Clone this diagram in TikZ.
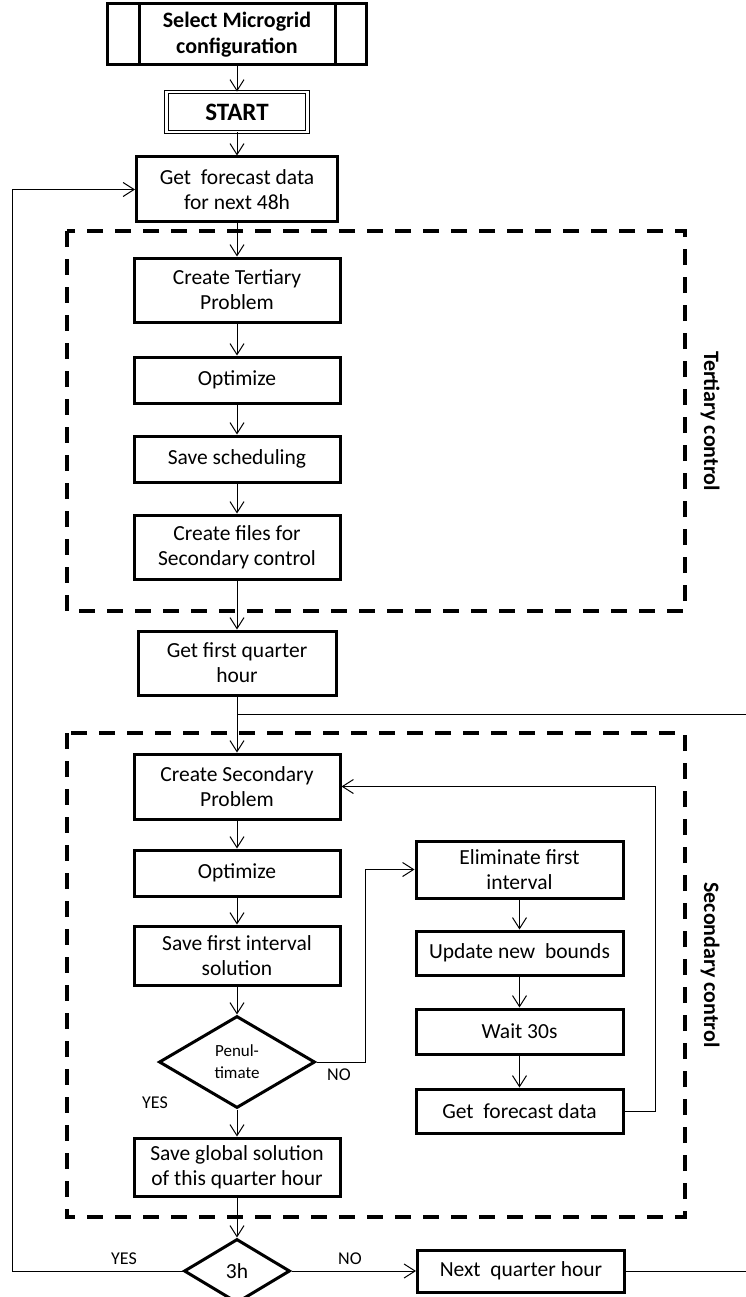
\documentclass[tikz,border=0pt]{standalone}
\usepackage{fontspec}
\setmainfont{Carlito}
\usetikzlibrary{arrows.meta,shapes.geometric}

\tikzset{
  procbox/.style={draw, line width=3pt, align=center, inner sep=0pt,
                  font=\fontsize{21.5}{25}\selectfont},
  decbox/.style={draw, diamond, line width=3pt, align=center, inner sep=0pt},
  arr/.style={line width=1pt, -{Straight Barb[length=11pt,width=14pt,line width=1pt]}},
  conn/.style={line width=1pt},
  region/.style={line width=3.5pt, dash pattern=on 16pt off 12pt},
  regionlabel/.style={rotate=-90, font=\fontsize{22}{26}\selectfont\bfseries},
  branchlabel/.style={font=\fontsize{18}{21}\selectfont},
}

\begin{document}
\begin{tikzpicture}[x=1pt, y=-1pt]
\useasboundingbox (0,0) rectangle (746,1297);

% dashed control regions
\draw[region] (67,231) rectangle (685,611);
\draw[region] (67,733) rectangle (685,1217);
\node[regionlabel] (tertlabel) at (710,421) {Tertiary control};
\node[regionlabel] (seclabel) at (710,965) {Secondary control};

% top of the chart
\node[procbox, minimum width=259pt, minimum height=61pt,
      font=\fontsize{22}{26}\selectfont\bfseries] (select) at (237,34.5)
      {Select Microgrid\\configuration};
\draw[line width=3pt] ([xshift=33pt]select.north west) -- ([xshift=33pt]select.south west);
\draw[line width=3pt] ([xshift=-33pt]select.north east) -- ([xshift=-33pt]select.south east);

\node[draw, double, double distance=2.5pt, line width=0.9pt, inner sep=0pt,
      minimum width=141pt, minimum height=40pt,
      font=\fontsize{25}{29}\selectfont\bfseries] (start) at (237,112) {START};

\node[procbox, minimum width=201pt, minimum height=65pt] (fc48) at (237,189.5)
      {Get\ \ forecast data\\for next 48h};

% tertiary control
\node[procbox, minimum width=206pt, minimum height=64pt] (tprob) at (237,290)
      {Create Tertiary\\Problem};
\node[procbox, minimum width=206pt, minimum height=46pt] (topt) at (237,380) {Optimize};
\node[procbox, minimum width=206pt, minimum height=46pt] (tsave) at (237,459) {Save scheduling};
\node[procbox, minimum width=206pt, minimum height=64pt] (tfiles) at (237,547)
      {Create files for\\Secondary control};

\node[procbox, minimum width=198pt, minimum height=64pt] (firstq) at (237,663)
      {Get first quarter\\hour};

% secondary control
\node[procbox, minimum width=206pt, minimum height=65pt] (sprob) at (237,786.5)
      {Create Secondary\\Problem};
\node[procbox, minimum width=206pt, minimum height=46pt] (sopt) at (237,873) {Optimize};
\node[procbox, minimum width=206pt, minimum height=59pt] (ssave) at (237,955.5)
      {Save first interval\\solution};
\node[decbox, minimum width=156pt, minimum height=92pt,
      font=\fontsize{17}{22}\selectfont] (penult) at (237,1062) {Penul-\\timate};
\node[procbox, minimum width=206pt, minimum height=58pt] (sglobal) at (237,1167)
      {Save global solution\\of this quarter hour};

\node[procbox, minimum width=207pt, minimum height=57pt] (elim) at (519.5,869.5)
      {Eliminate first\\interval};
\node[procbox, minimum width=207pt, minimum height=44pt] (bounds) at (519.5,953)
      {Update new\ \ bounds};
\node[procbox, minimum width=207pt, minimum height=45pt] (wait) at (519.5,1031.5) {Wait 30s};
\node[procbox, minimum width=207pt, minimum height=44pt] (fcnow) at (519.5,1111)
      {Get\ \ forecast data};

% three-hour check
\node[decbox, minimum width=106pt, minimum height=64pt,
      font=\fontsize{21.5}{25}\selectfont] (three) at (237,1271) {3h};
\node[procbox, minimum width=207pt, minimum height=42pt] (nextq) at (521,1271)
      {Next\ \ quarter hour};

% helper points for the connectors
\coordinate (qjoin) at (237,714);
\coordinate (qright) at (746,714);
\coordinate (nobend) at (365,1062);
\coordinate (backbend) at (655,1111);
\coordinate (yesbend) at (12,1271);
\coordinate (nextright) at (746,1271);

% main flow
\draw[arr] (select) -- (start);
\draw[arr] (start) -- (fc48);
\draw[arr] (fc48) -- (tprob);
\draw[arr] (tprob) -- (topt);
\draw[arr] (topt) -- (tsave);
\draw[arr] (tsave) -- (tfiles);
\draw[arr] (tfiles) -- (firstq);
\draw[arr] (firstq) -- (sprob);
\draw[conn] (qjoin) -- (qright);
\draw[arr] (sprob) -- (sopt);
\draw[arr] (sopt) -- (ssave);
\draw[arr] (ssave) -- (penult);
\draw[arr] (penult) -- (sglobal);
\draw[arr] (sglobal) -- (three);

% rolling-horizon loop
\draw[arr] (penult.east) -- (nobend) |- (elim.west);
\draw[arr] (elim) -- (bounds);
\draw[arr] (bounds) -- (wait);
\draw[arr] (wait) -- (fcnow);
\draw[arr] (fcnow.east) -- (backbend) |- (sprob.east);

% outer loops
\draw[arr] (three.west) -- (yesbend) |- (fc48.west);
\draw[arr] (three.east) -- (nextq.west);
\draw[conn] (nextq.east) -- (nextright);

% branch labels
\node[branchlabel] (penyes) at (155,1103) {YES};
\node[branchlabel] (penno) at (339,1075) {NO};
\node[branchlabel] (threeyes) at (124,1259) {YES};
\node[branchlabel] (threeno) at (350,1259) {NO};
\end{tikzpicture}
\end{document}
